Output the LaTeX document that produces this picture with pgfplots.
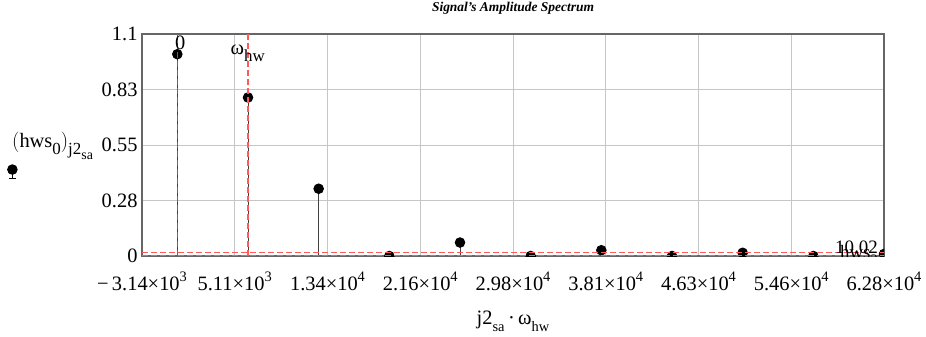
\documentclass[border=0pt]{standalone}
\usepackage{fontspec}
\setmainfont{Liberation Serif}
\usepackage{pgfplots}
\pgfplotsset{compat=1.18}
\newcommand{\sups}[1]{\raisebox{0.45em}{\fontsize{14.5}{15}\selectfont #1}}
\newcommand{\subs}[1]{\raisebox{-0.32em}{\fontsize{14.5}{15}\selectfont #1}}
\newcommand{\bsubs}[1]{\raisebox{-0.34em}{\fontsize{17}{18}\selectfont #1}}
\newcommand{\subsubs}[1]{\raisebox{-0.28em}{\fontsize{14}{15}\selectfont #1}}
\begin{document}
\begin{tikzpicture}[x=1bp,y=1bp]
\useasboundingbox (0,0) rectangle (926,336);
\begin{axis}[
  at={(142bp,80bp)}, anchor=south west,
  scale only axis, width=742bp, height=222bp,
  xmin=-3141.59, xmax=62831.85, ymin=0, ymax=1.1,
  scaled x ticks=false, scaled y ticks=false,
  xtick={-3141.59,5105.09,13351.77,21598.45,29845.13,38091.81,46338.49,54585.17,62831.85},
  xticklabels={−\,3.14×10\sups{3},5.11×10\sups{3},1.34×10\sups{4},2.16×10\sups{4},2.98×10\sups{4},3.81×10\sups{4},4.63×10\sups{4},5.46×10\sups{4},6.28×10\sups{4}},
  ytick={0,0.275,0.55,0.825,1.1},
  yticklabels={0,0.28,0.55,0.83,1.1},
  tick label style={font=\fontsize{20.5}{22}\selectfont},
  xtick style={draw=none}, ytick style={draw=none},
  xticklabel style={yshift=-12bp},
  yticklabel style={xshift=-1bp},
  grid=major, major grid style={gray!45, line width=0.8pt},
  axis line style={draw=black!60, line width=1.3pt},
  clip marker paths=true,
  title={\fontsize{13.5}{15}\selectfont\bfseries\itshape Signal's Amplitude Spectrum},
  title style={at={(0.5,1)}, anchor=south, yshift=10bp},
  xlabel={\fontsize{20.5}{22}\selectfont j2\subs{sa}\,·\,ω\subs{hw}},
  xlabel style={yshift=-14bp},
  legend style={draw=none, fill=none, at={(-0.172,0.38)}, anchor=center, inner sep=0pt},
  legend image code/.code={
    \draw[black, line width=0.8pt] (0bp,-6bp) -- (0bp,3bp);
    \draw[black, line width=0.8pt] (-3.5bp,-6bp) -- (3.5bp,-6bp);
    \fill[black] (0bp,3bp) circle (4.8bp);
  },
]
\addplot[black!75, line width=0.9pt, ycomb, mark=*, mark size=4.8bp, mark options={fill=black, draw=black}]
 coordinates {(0,1.0) (6283.19,0.7854) (12566.37,0.3333) (18849.56,0) (25132.74,0.0667) (31415.93,0) (37699.11,0.0286) (43982.30,0) (50265.48,0.0159) (56548.67,0) (62831.85,0.0101)};
\addlegendentry{}
\addplot[red!85, dash pattern=on 6bp off 3bp, line width=0.9pt, forget plot] coordinates {(0,0) (0,1.1)};
\addplot[red!65, dash pattern=on 6bp off 3bp, line width=1.3pt, forget plot] coordinates {(6283.19,0) (6283.19,1.1)};
\addplot[red!65, dash pattern=on 6bp off 3bp, line width=1.3pt, forget plot] coordinates {(-3141.59,0.003) (62831.85,0.003)};
\addplot[red!65, dash pattern=on 6bp off 3bp, line width=1.3pt, forget plot] coordinates {(-3141.59,0.016) (62831.85,0.016)};
\node[anchor=north, font=\fontsize{20.5}{22}\selectfont, inner sep=0pt] at (axis cs:250,1.09) {0};
\node[anchor=base east, font=\fontsize{20.5}{22}\selectfont, inner sep=0pt] at (axis cs:7800,1.0) {ω\bsubs{hw}};
\node[anchor=base east, font=\fontsize{19}{20}\selectfont, inner sep=0pt] at (axis cs:62300,0.01) {10.02};
\node[anchor=base east, font=\fontsize{19}{20}\selectfont, inner sep=0pt] at (axis cs:62300,-0.012) {hws\subs{2}};
\end{axis}
\node[anchor=base west, font=\fontsize{20.5}{22}\selectfont, inner sep=0pt] at (12bp,188bp) {$\Big($hws\bsubs{0}$\Big)$\bsubs{j2\subsubs{sa}}};
\end{tikzpicture}
\end{document}
